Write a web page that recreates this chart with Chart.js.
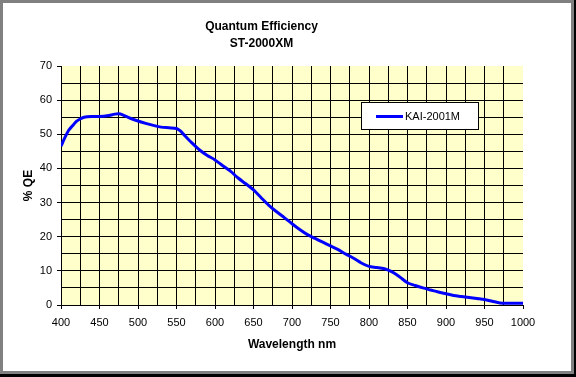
<!DOCTYPE html>
<html>
<head>
<meta charset="utf-8">
<script src="https://cdn.jsdelivr.net/npm/chart.js@4/dist/chart.umd.min.js"></script>
<style>
  html, body { margin: 0; padding: 0; }
  body { width: 576px; height: 377px; position: relative; background: #000; overflow: hidden; }
  #gray { position: absolute; left: 0; top: 0; width: 574px; height: 374px; background: #808080; }
  #white { position: absolute; left: 3px; top: 3px; width: 568px; height: 368px; background: #fff; }
  #c { position: absolute; left: 0; top: 0; }
</style>
</head>
<body>
<div id="gray"></div>
<div id="white"></div>
<canvas id="c" width="576" height="377"></canvas>
<script>
// ---- Data ----
const chartTitle = ['Quantum Efficiency', 'ST-2000XM'];
const seriesName = 'KAI-2001M';
const xAxisTitle = 'Wavelength nm';
const yAxisTitle = '% QE';
const wavelengths = [400, 405, 410, 415, 420, 425, 430, 440, 450, 460, 470, 475, 480, 490, 500,
  510, 520, 530, 540, 550, 555, 560, 570, 580, 590, 600, 610, 620, 630, 640, 650, 660, 670,
  680, 690, 700, 710, 720, 730, 740, 750, 760, 770, 780, 790, 800, 810, 820, 830, 840, 850,
  860, 870, 880, 890, 900, 910, 920, 930, 940, 950, 960, 970, 980, 1000];
const qeValues = [46.5, 49.0, 51.2, 52.5, 53.8, 54.5, 55.0, 55.2, 55.2, 55.4, 55.9, 56.0, 55.7, 54.7, 53.9,
  53.2, 52.6, 52.1, 51.9, 51.7, 51.0, 49.8, 47.5, 45.4, 43.8, 42.5, 40.8, 39.2, 37.2, 35.5, 33.7, 31.4, 29.2,
  27.3, 25.6, 23.8, 22.1, 20.6, 19.5, 18.4, 17.3, 16.2, 14.9, 13.7, 12.3, 11.3, 11.0, 10.6, 9.7, 8.2, 6.5,
  5.7, 5.0, 4.4, 3.8, 3.3, 2.8, 2.5, 2.2, 1.9, 1.6, 1.1, 0.6, 0.5, 0.5];
const xMin = 400, xMax = 1000, xGridStep = 25, xLabelStep = 50;
const yMin = 0, yMax = 70, yGridStep = 5, yLabelStep = 10;

const FONT = '"Liberation Sans", Arial, Helvetica, sans-serif';

const plotBg = {
  id: 'plotBg',
  beforeDraw(chart) {
    const {ctx, chartArea: a} = chart;
    ctx.save();
    ctx.fillStyle = '#FFFFCC';
    ctx.fillRect(a.left, a.top, a.right - a.left, a.bottom - a.top);
    ctx.restore();
  }
};

const boxLegend = {
  id: 'boxLegend',
  afterDraw(chart) {
    const ctx = chart.ctx;
    const ds = chart.data.datasets[0];
    ctx.save();
    ctx.fillStyle = '#fff';
    ctx.fillRect(361.5, 102.5, 117, 27);
    ctx.strokeStyle = '#000';
    ctx.lineWidth = 1;
    ctx.strokeRect(361.5, 102.5, 117, 27);
    ctx.strokeStyle = ds.borderColor;
    ctx.lineWidth = 3;
    ctx.beginPath();
    ctx.moveTo(376, 116.5);
    ctx.lineTo(403, 116.5);
    ctx.stroke();
    ctx.fillStyle = '#000';
    ctx.font = '11px ' + FONT;
    ctx.textBaseline = 'middle';
    ctx.textAlign = 'left';
    ctx.fillText(ds.label, 405, 117);
    ctx.restore();
  }
};

new Chart(document.getElementById('c'), {
  type: 'line',
  data: {
    datasets: [{
      label: seriesName,
      data: wavelengths.map((w, i) => ({x: w, y: qeValues[i]})),
      borderColor: '#0000FF',
      borderWidth: 3,
      pointRadius: 0,
      tension: 0.3,
      fill: false
    }]
  },
  options: {
    responsive: false,
    animation: false,
    devicePixelRatio: 1,
    layout: { padding: { left: 0, right: 53, top: 0, bottom: 0 } },
    plugins: {
      legend: { display: false },
      tooltip: { enabled: false },
      title: {
        display: true,
        text: chartTitle,
        color: '#000',
        font: { family: FONT, size: 12, weight: 'bold', lineHeight: 17 / 12 },
        padding: { top: 18, bottom: 14 }
      }
    },
    scales: {
      x: {
        type: 'linear',
        min: xMin, max: xMax,
        afterFit(scale) { scale.height = 72; },
        ticks: {
          stepSize: xGridStep,
          autoSkip: false,
          maxRotation: 0,
          color: '#000',
          padding: 7,
          font: { family: FONT, size: 11 },
          callback: v => (v % xLabelStep === 0 ? String(v) : '')
        },
        grid: {
          color: c => (c.tick && c.tick.value === xMax ? 'rgba(0,0,0,0)' : '#000'),
          tickColor: c => (c.tick && c.tick.value % xLabelStep === 0 ? '#000' : 'rgba(0,0,0,0)'),
          tickLength: 4,
          lineWidth: 1
        },
        border: { display: true, color: '#000', width: 1 },
        title: {
          display: true,
          text: xAxisTitle,
          color: '#000',
          font: { family: FONT, size: 12, weight: 'bold' },
          padding: { top: 0, bottom: 24.8 }
        }
      },
      y: {
        min: yMin, max: yMax,
        afterFit(scale) { scale.width = 61; },
        ticks: {
          stepSize: yGridStep,
          autoSkip: false,
          color: '#000',
          padding: 5,
          font: { family: FONT, size: 11 },
          callback: v => (v % yLabelStep === 0 ? String(v) : '')
        },
        grid: {
          color: c => (c.tick && c.tick.value === yMax ? 'rgba(0,0,0,0)' : '#000'),
          tickColor: c => (c.tick && c.tick.value % yLabelStep === 0 ? '#000' : 'rgba(0,0,0,0)'),
          tickLength: 4,
          lineWidth: 1
        },
        border: { display: true, color: '#000', width: 1 },
        title: {
          display: true,
          text: yAxisTitle,
          color: '#000',
          font: { family: FONT, size: 12, weight: 'bold' },
          padding: { top: 21.5, bottom: 0 }
        }
      }
    }
  },
  plugins: [plotBg, boxLegend]
});
</script>
</body>
</html>
